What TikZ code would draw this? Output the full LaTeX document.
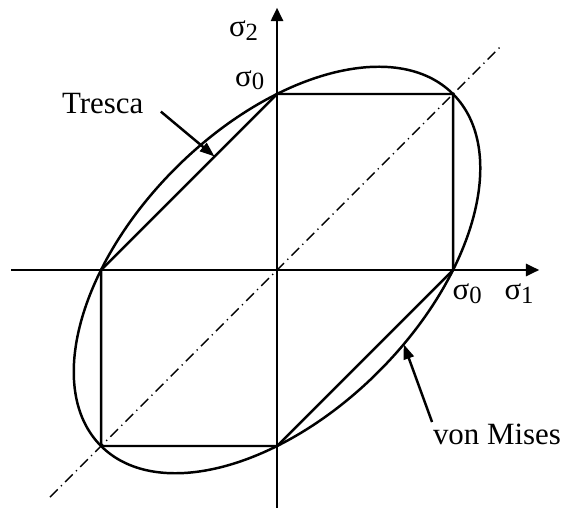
\documentclass[tikz,border=0pt]{standalone}
\usepackage{fontspec}
\setmainfont{Liberation Serif}
\usetikzlibrary{arrows.meta}
\newcommand{\sig}[1]{σ\raisebox{-1.1pt}{\footnotesize #1}}

\begin{document}
\begin{tikzpicture}[scale=2,line width=0.8pt,
  axis/.style={-{Triangle[length=4.3pt,width=3.9pt]}},
  pointer/.style={-{Triangle[length=4.8pt,width=3.4pt]}},
  diag/.style={line width=0.45pt,dash pattern=on 3.5pt off 1.5pt on 0.4pt off 1.5pt}]
\useasboundingbox (-1.574,-1.352) rectangle (1.642,1.534);
\coordinate (O) at (0,0);
\coordinate (xmin) at (-1.51,0); \coordinate (xmax) at (1.49,0);
\coordinate (ymin) at (0,-1.36); \coordinate (ymax) at (0,1.49);
\coordinate (dmin) at (-1.29,-1.29); \coordinate (dmax) at (1.27,1.27);
% corners of the Tresca hexagon
\coordinate (ha) at (1,0); \coordinate (hb) at (1,1); \coordinate (hc) at (0,1);
\coordinate (hd) at (-1,0); \coordinate (he) at (-1,-1); \coordinate (hf) at (0,-1);
\draw[axis] (xmin) -- (xmax); \draw[axis] (ymin) -- (ymax);
\draw[diag] (dmin) -- (dmax);
\draw (ha) -- (hb) -- (hc) -- (hd) -- (he) -- (hf) -- cycle;
\draw[rotate=45] (O) ellipse [x radius=1.4142, y radius=0.8165];
% labels
\node (s2) at (-0.19,1.36) {\sig{2}}; \node (s1) at (1.375,-0.135) {\sig{1}};
\node (s0top) at (-0.155,1.08) {\sig{0}}; \node (s0right) at (1.08,-0.135) {\sig{0}};
\node (tresca) at (-0.99,0.946) {Tresca}; \node (mises) at (1.25,-0.935) {von Mises};
\coordinate (ttail) at (-0.66,0.90); \coordinate (ttip) at (-0.355,0.645);
\coordinate (mtail) at (0.881,-0.864); \coordinate (mtip) at (0.720,-0.422);
\draw[pointer] (ttail) -- (ttip); \draw[pointer] (mtail) -- (mtip);
\end{tikzpicture}
\end{document}
